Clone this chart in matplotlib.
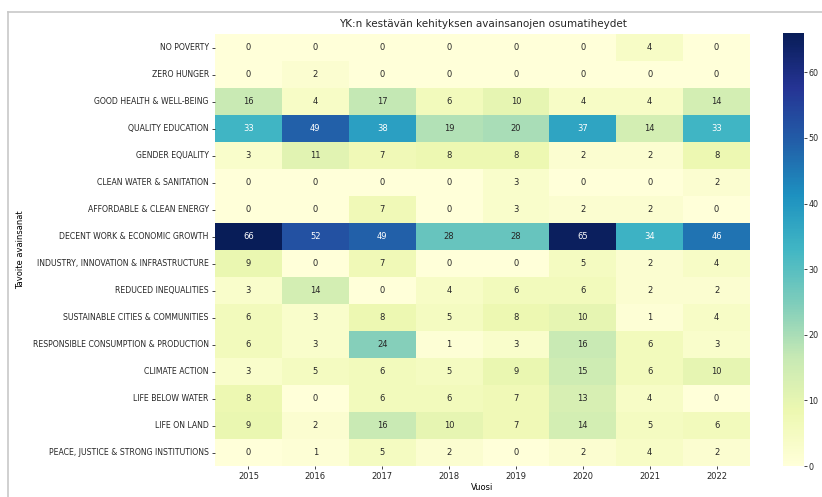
import matplotlib
matplotlib.use("Agg")
import matplotlib.pyplot as plt
import seaborn as sns
import pandas as pd
from matplotlib.lines import Line2D

years = [2015, 2016, 2017, 2018, 2019, 2020, 2021, 2022]
goals = [
    "NO POVERTY",
    "ZERO HUNGER",
    "GOOD HEALTH & WELL-BEING",
    "QUALITY EDUCATION",
    "GENDER EQUALITY",
    "CLEAN WATER & SANITATION",
    "AFFORDABLE & CLEAN ENERGY",
    "DECENT WORK & ECONOMIC GROWTH",
    "INDUSTRY, INNOVATION & INFRASTRUCTURE",
    "REDUCED INEQUALITIES",
    "SUSTAINABLE CITIES & COMMUNITIES",
    "RESPONSIBLE CONSUMPTION & PRODUCTION",
    "CLIMATE ACTION",
    "LIFE BELOW WATER",
    "LIFE ON LAND",
    "PEACE, JUSTICE & STRONG INSTITUTIONS",
]

no_poverty = [0, 0, 0, 0, 0, 0, 4, 0]
zero_hunger = [0, 2, 0, 0, 0, 0, 0, 0]
good_health = [16, 4, 17, 6, 10, 4, 4, 14]
quality_edu = [33, 49, 38, 19, 20, 37, 14, 33]
gender_eq = [3, 11, 7, 8, 8, 2, 2, 8]
clean_water = [0, 0, 0, 0, 3, 0, 0, 2]
clean_energy = [0, 0, 7, 0, 3, 2, 2, 0]
decent_work = [66, 52, 49, 28, 28, 65, 34, 46]
industry = [9, 0, 7, 0, 0, 5, 2, 4]
reduced_ineq = [3, 14, 0, 4, 6, 6, 2, 2]
cities = [6, 3, 8, 5, 8, 10, 1, 4]
consumption = [6, 3, 24, 1, 3, 16, 6, 3]
climate = [3, 5, 6, 5, 9, 15, 6, 10]
below_water = [8, 0, 6, 6, 7, 13, 4, 0]
on_land = [9, 2, 16, 10, 7, 14, 5, 6]
peace = [0, 1, 5, 2, 0, 2, 4, 2]

rows = [no_poverty, zero_hunger, good_health, quality_edu, gender_eq, clean_water,
        clean_energy, decent_work, industry, reduced_ineq, cities, consumption,
        climate, below_water, on_land, peace]
df = pd.DataFrame(rows, index=goals, columns=years)

plt.rcParams["font.family"] = ["DejaVu Sans Condensed", "DejaVu Sans"]
plt.rcParams["text.color"] = "#262626"
plt.rcParams["xtick.color"] = "#262626"
plt.rcParams["ytick.color"] = "#262626"

fig = plt.figure(figsize=(8.22, 4.97), dpi=100)
ax = fig.add_axes([215/822, 1-466/497, 535/822, 432/497])
cax = fig.add_axes([783/822, 1-466/497, 21/822, 433/497])

sns.heatmap(df, ax=ax, cbar_ax=cax, cmap="YlGnBu", annot=True, fmt="d",
            annot_kws={"fontsize": 6})

ax.set_title("YK:n kestävän kehityksen avainsanojen osumatiheydet", fontsize=7.5, pad=5)
ax.set_xlabel("Vuosi", fontsize=6, labelpad=1)
ax.set_ylabel("Tavoite avainsanat", fontsize=6)
ax.yaxis.set_label_coords(-0.355, 0.5)
ax.tick_params(axis="x", labelsize=6, length=2.5, width=0.6, pad=2)
ax.tick_params(axis="y", labelsize=5.6, length=2.5, width=0.6, pad=2)
plt.setp(ax.get_yticklabels(), rotation=0)
cax.tick_params(labelsize=5.8, length=2, width=0.6, pad=1)
cax.set_yticks([0, 10, 20, 30, 40, 50, 60])

# screenshot frame
fig.add_artist(Line2D([8/822, 1], [1-12/497, 1-12/497], color="#c8c8c8", lw=1.2))
fig.add_artist(Line2D([8/822, 8/822], [0, 1-12/497], color="#c8c8c8", lw=1.2))

fig.savefig("out.png", dpi=100)
